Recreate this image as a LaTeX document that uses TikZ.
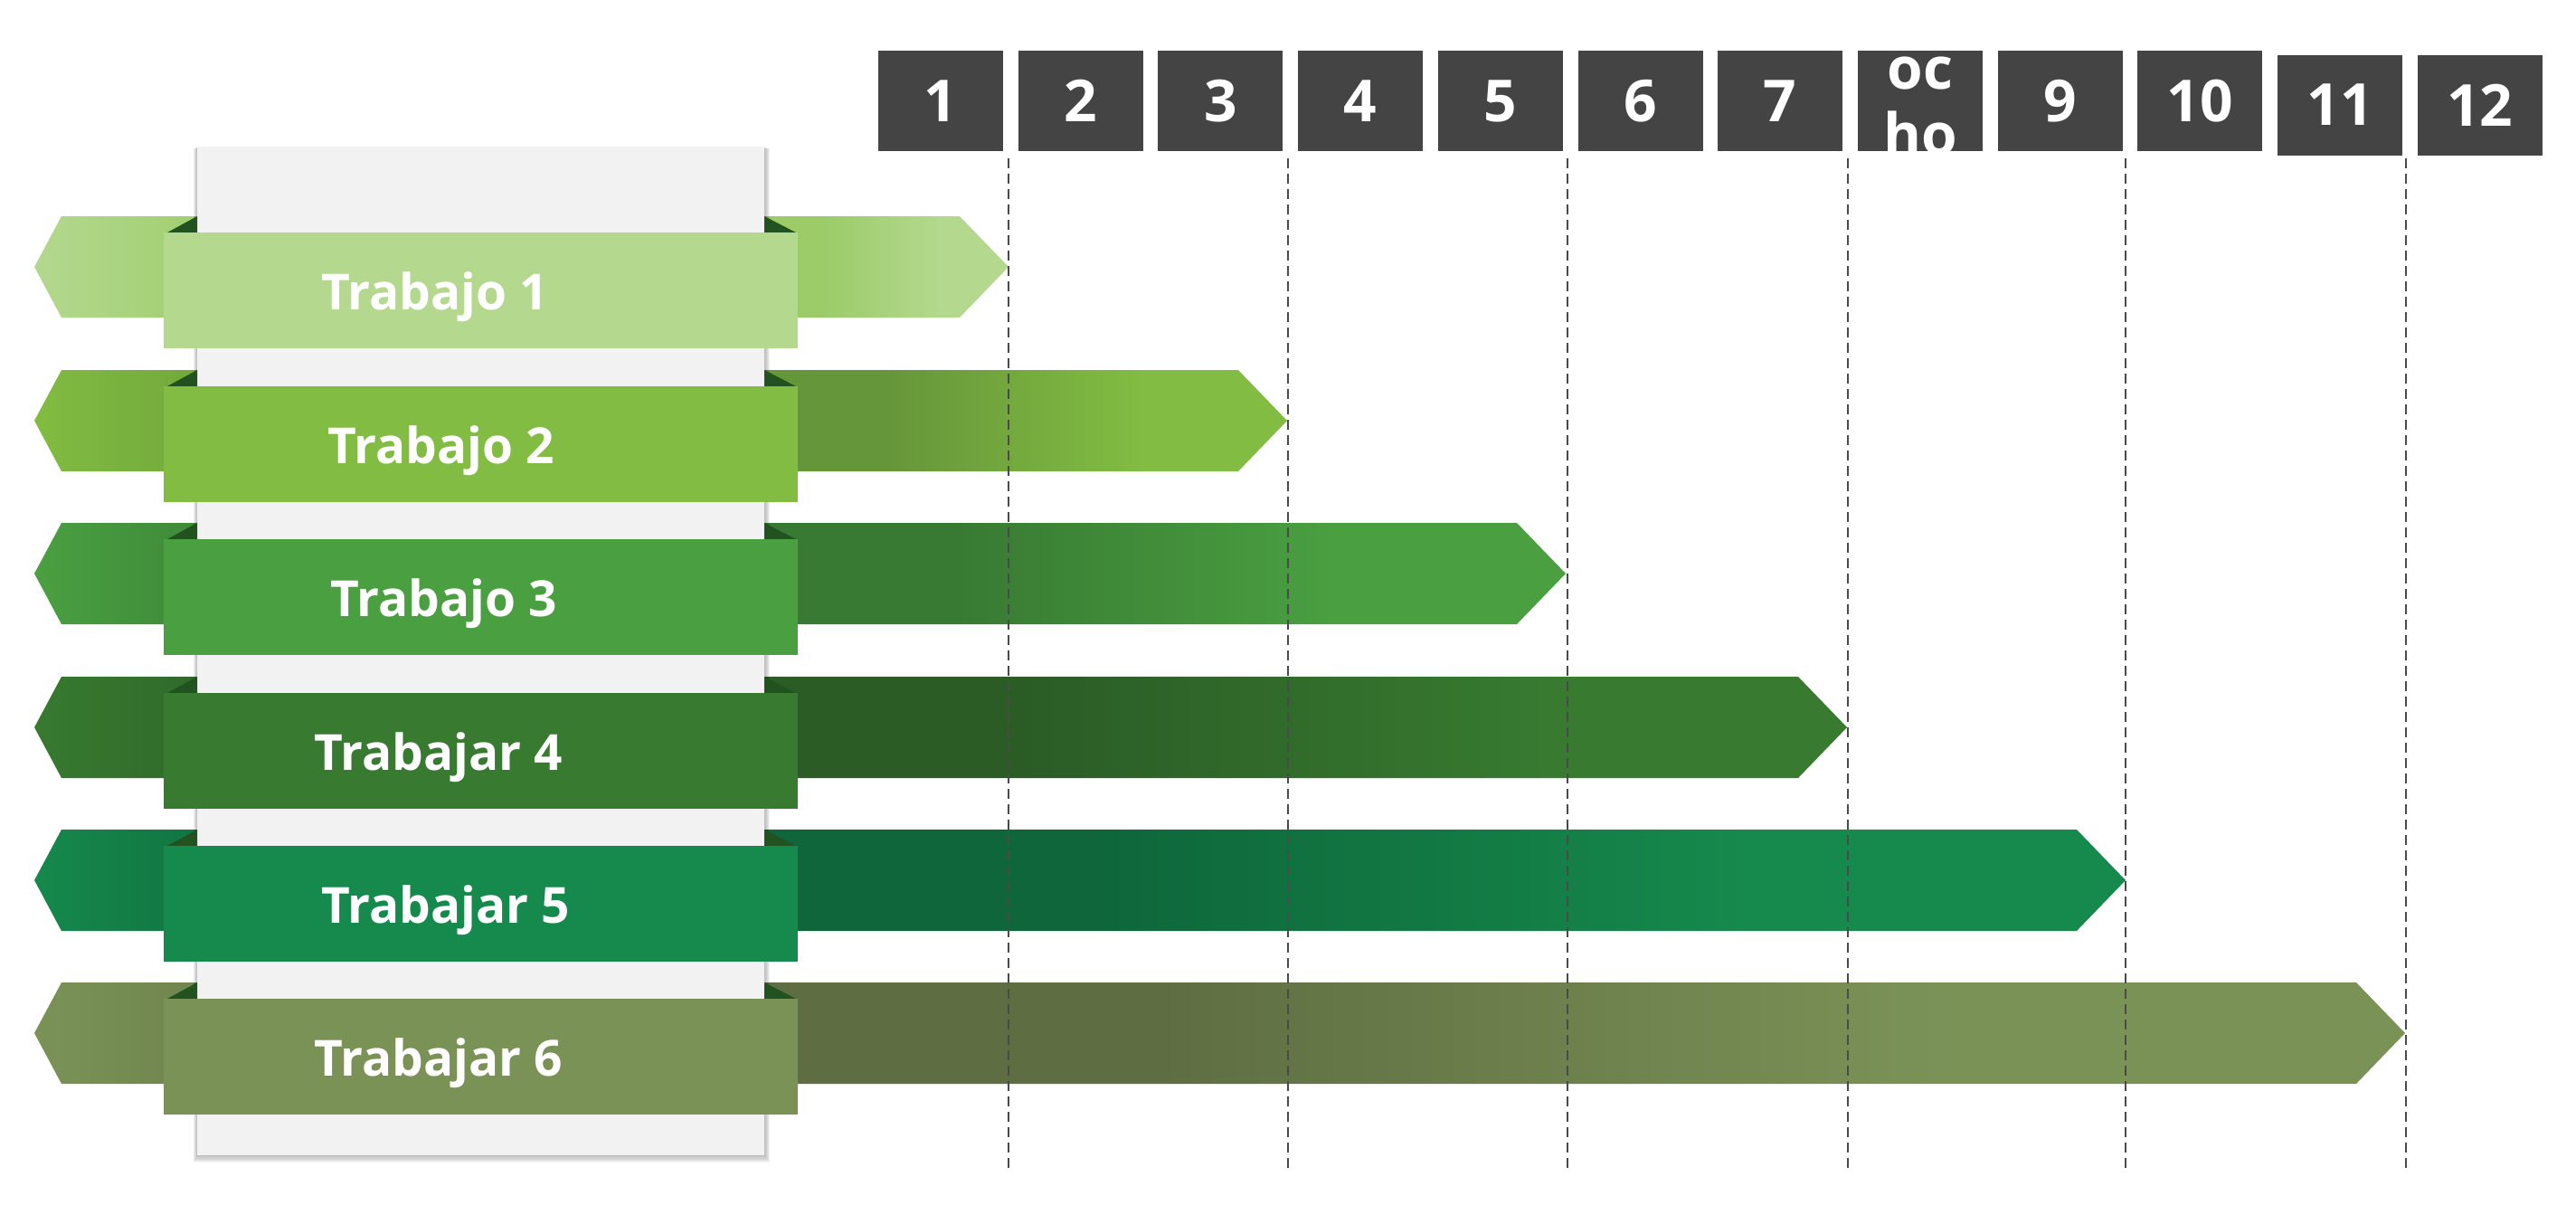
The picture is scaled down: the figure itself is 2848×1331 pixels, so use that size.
\documentclass[tikz,border=0pt]{standalone}
\usepackage{fontspec}
\setmainfont{Open Sans}
\definecolor{hdr}{HTML}{444444}
\definecolor{panelc}{HTML}{F2F2F2}
\definecolor{foldc}{HTML}{22521F}
\definecolor{gridc}{HTML}{4A4A4A}
\definecolor{bandD}{HTML}{000000}
\definecolor{bandL}{HTML}{FFFFFF}
\pgfdeclarehorizontalshading[bandD,bandL]{bandshade}{100bp}{color(0bp)=(bandD); color(37bp)=(bandD); color(61bp)=(bandL); color(100bp)=(bandL)}
\tikzset{
  hbox/.style={fill=hdr, text=white, minimum width=138pt, minimum height=111pt, inner sep=0pt, font=\bfseries\fontsize{64}{70}\selectfont},
  gridline/.style={draw=gridc, line width=1.4pt, dash pattern=on 11pt off 6pt},
  lbl/.style={text=white, inner sep=0pt, anchor=base, font=\bfseries\fontsize{55}{60}\selectfont},
}
\begin{document}
\begin{tikzpicture}[x=1pt,y=-1pt]
\useasboundingbox (0,0) rectangle (2848,1331);
\fill[white] (0,0) rectangle (2848,1331);
% bands
\foreach \T/\tip/\L/\D/\LD in {
  239/1115/B3D88E/9CCB68/A2CF71,
  409/1423/82BC42/66963A/72A83B,
  578/1731/4AA041/387A33/3F8A39,
  748/2042/377A30/2B5C26/306A2B,
  917/2350/16894C/0E663A/117542,
  1086/2659/7B9257/5E6E42/6F854E}{
  \definecolor{bandL}{HTML}{\L}
  \definecolor{bandD}{HTML}{\D}
  \definecolor{bandLD}{HTML}{\LD}
  \path[shading=bandshade] (845,\T) -- (\tip-54,\T) -- (\tip,\T+56) -- (\tip-54,\T+112) -- (845,\T+112) -- cycle;
  \path[left color=bandL, right color=bandLD] (38,\T+56) -- (68,\T) -- (220,\T) -- (220,\T+112) -- (68,\T+112) -- cycle;
}
% grid lines
\foreach \g/\x in {1/1115,2/1424,3/1733,4/2043,5/2350,6/2660}{
  \coordinate (g\g t) at (\x,175);
  \coordinate (g\g b) at (\x,1292);
  \draw[gridline] (g\g t) -- (g\g b);
}
% panel shadow
\foreach \k in {1,...,7}{
  \fill[black, opacity=0.04] (218-\k*0.6,162+\k*0.3) rectangle (845+\k*0.9,1277+\k*1.2);
}
\fill[panelc] (218,162) rectangle (845,1277);
% front labels
\foreach \i/\T/\L/\txt/\tx in {
  1/239/B3D88E/Trabajo 1/481,
  2/409/82BC42/Trabajo 2/488,
  3/578/4AA041/Trabajo 3/491,
  4/748/377A30/Trabajar 4/485,
  5/917/16894C/Trabajar 5/493,
  6/1086/7B9257/Trabajar 6/485}{
  \definecolor{frontc}{HTML}{\L}
  \fill[foldc] (218,\T) -- (185,\T+18) -- (218,\T+18) -- cycle;
  \fill[foldc] (845,\T) -- (880,\T+18) -- (845,\T+18) -- cycle;
  \fill[frontc] (181,\T+18) rectangle (882,\T+146);
  \node[lbl] (t\i) at (\tx,\T+103) {\txt};
}
% header
\foreach \i in {1,...,7,9,10}{
  \node[hbox] (h\i) at ({971+(\i-1)*154.7+69},111.5) {\i};
}
\node[hbox] (h11) at ({971+10*154.7+69},116) {11};
\node[hbox] (h12) at ({971+11*154.7+69},116) {12};
\node[hbox] (h8) at ({971+7*154.7+69},111.5) {};
\begin{scope}
  \clip (h8.south west) rectangle (h8.north east);
  \node[text=white, inner sep=0pt, anchor=base, font=\bfseries\fontsize{64}{70}\selectfont] (h8a) at (h8.center |- 0,98) {oc};
  \node[text=white, inner sep=0pt, anchor=base, font=\bfseries\fontsize{64}{70}\selectfont] (h8b) at (h8.center |- 0,171) {ho};
\end{scope}
\end{tikzpicture}
\end{document}
